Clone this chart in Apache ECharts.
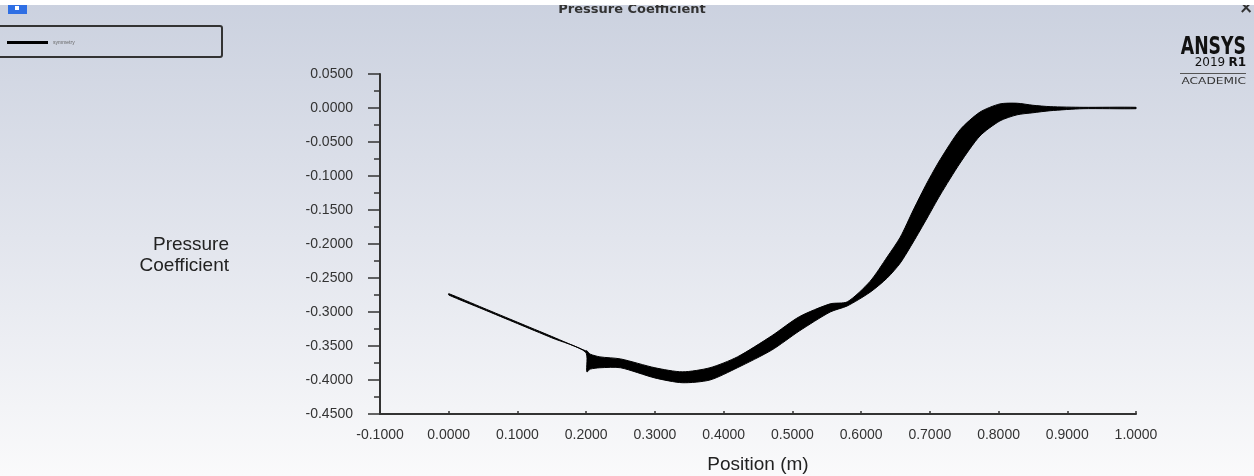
<!DOCTYPE html>
<html>
<head>
<meta charset="utf-8">
<script src="https://cdn.jsdelivr.net/npm/echarts@6/dist/echarts.min.js"></script>
<style>
  html, body { margin: 0; padding: 0; background: #eef0f4; }
  #chart { width: 1254px; height: 476px; }
</style>
</head>
<body>
<div id="chart"></div>
<script>
// Position along the surface (m)
const positions = [0.000, 0.050, 0.100, 0.150, 0.199, 0.201, 0.206, 0.220, 0.250, 0.300, 0.340, 0.380, 0.420, 0.470, 0.510, 0.555, 0.580, 0.613, 0.638, 0.657, 0.676, 0.696, 0.715, 0.744, 0.773, 0.802, 0.827, 0.850, 0.875, 0.923, 1.000];
// Upper envelope of the pressure coefficient curves
const cpUpper = [-0.273, -0.294, -0.315, -0.336, -0.357, -0.357, -0.362, -0.366, -0.369, -0.382, -0.388, -0.382, -0.366, -0.335, -0.307, -0.288, -0.285, -0.255, -0.219, -0.190, -0.150, -0.110, -0.076, -0.032, -0.006, 0.006, 0.007, 0.004, 0.002, 0.001, 0.001];
// Lower envelope of the pressure coefficient curves
const cpLower = [-0.275, -0.296, -0.317, -0.338, -0.359, -0.388, -0.384, -0.382, -0.382, -0.397, -0.404, -0.400, -0.382, -0.356, -0.328, -0.300, -0.291, -0.271, -0.250, -0.228, -0.197, -0.162, -0.128, -0.081, -0.041, -0.019, -0.010, -0.007, -0.004, -0.001, -0.001];
const seriesName = 'symmetry';
const titleText = 'Pressure Coefficient';
const xAxisTitle = 'Position (m)';
const yAxisTitle = ['Pressure', 'Coefficient'];

const bandData = positions.map((x, i) => [x, cpUpper[i], cpLower[i]]);

const chart = echarts.init(document.getElementById('chart'), null, { renderer: 'canvas' });
const tickFont = '"Liberation Sans", Arial, sans-serif';

function renderBand(params, api) {
  if (params.dataIndex !== 0) return null;
  const pts = [];
  for (let j = 0; j < positions.length; j++) pts.push(api.coord([positions[j], cpUpper[j]]));
  for (let j = positions.length - 1; j >= 0; j--) pts.push(api.coord([positions[j], cpLower[j]]));
  return {
    type: 'polygon',
    shape: { points: pts, smooth: 0.25 },
    style: { fill: '#000', stroke: '#000', lineWidth: 1 }
  };
}

chart.setOption({
  backgroundColor: {
    type: 'linear', x: 0, y: 0, x2: 0, y2: 1,
    colorStops: [
      { offset: 0, color: '#cbd1df' },
      { offset: 0.5, color: '#e2e5ed' },
      { offset: 1, color: '#fafafb' }
    ]
  },
  animation: false,
  grid: { left: 380, right: 118, top: 74, bottom: 62, containLabel: false, outerBoundsMode: 'none' },
  legend: {
    data: [{ name: seriesName, icon: 'rect' }],
    left: 7, top: 40, padding: 0,
    itemWidth: 41, itemHeight: 3, itemGap: 4,
    textStyle: { fontSize: 5, color: '#666', fontFamily: tickFont },
    selectedMode: false
  },
  xAxis: {
    type: 'value',
    min: -0.1, max: 1.0, interval: 0.1,
    name: xAxisTitle,
    nameLocation: 'middle',
    nameGap: 41,
    nameTextStyle: { fontSize: 19, color: '#222', fontFamily: tickFont },
    axisLine: { show: true, onZero: false, lineStyle: { color: '#333', width: 2 } },
    axisTick: { show: true, inside: true, length: 3, lineStyle: { color: '#333', width: 1.5 } },
    axisLabel: { margin: 14, fontSize: 14, color: '#333', fontFamily: tickFont,
      formatter: v => v.toFixed(4) },
    splitLine: { show: false }
  },
  yAxis: {
    type: 'value',
    min: -0.45, max: 0.05, interval: 0.05,
    axisLine: { show: true, onZero: false, lineStyle: { color: '#333', width: 2 } },
    axisTick: { show: true, length: 12, lineStyle: { color: '#333', width: 1.5 } },
    minorTick: { show: true, splitNumber: 2, length: 6, lineStyle: { color: '#333', width: 1.5 } },
    axisLabel: { margin: 27, fontSize: 14, color: '#333', fontFamily: tickFont,
      formatter: v => v.toFixed(4) },
    splitLine: { show: false }
  },
  series: [
    {
      name: seriesName,
      type: 'custom',
      coordinateSystem: 'cartesian2d',
      data: bandData,
      encode: { x: 0, y: [1, 2] },
      renderItem: renderBand,
      itemStyle: { color: '#000' },
      z: 3
    }
  ],
  graphic: [
    {
      type: 'text', z: 10,
      style: { text: titleText, x: 632, y: 16, textAlign: 'center', textVerticalAlign: 'bottom',
        font: 'bold 13px Tahoma, "DejaVu Sans", sans-serif', fill: '#333' }
    },
    { type: 'rect', z: 20, shape: { x: 0, y: 0, width: 1254, height: 5 }, style: { fill: '#ffffff' } },
    { type: 'rect', z: 10, shape: { x: 8, y: 5, width: 19, height: 9 }, style: { fill: '#2f6fe4' } },
    { type: 'rect', z: 11, shape: { x: 15, y: 6, width: 4, height: 4 }, style: { fill: '#ffffff' } },
    {
      type: 'text', z: 10,
      style: { text: '×', x: 1246, y: 9, textAlign: 'center', textVerticalAlign: 'middle',
        font: 'bold 17px "DejaVu Sans", sans-serif', fill: '#333' }
    },
    {
      type: 'rect', z: 10,
      shape: { x: -4, y: 26, width: 226, height: 31, r: 2 },
      style: { fill: 'transparent', stroke: '#333', lineWidth: 2 }
    },
    {
      type: 'text', z: 10,
      style: { text: yAxisTitle[0], x: 229, y: 245, textAlign: 'right', textVerticalAlign: 'middle',
        font: '19px "Liberation Sans", Arial, sans-serif', fill: '#222' }
    },
    {
      type: 'text', z: 10,
      style: { text: yAxisTitle[1], x: 229, y: 266, textAlign: 'right', textVerticalAlign: 'middle',
        font: '19px "Liberation Sans", Arial, sans-serif', fill: '#222' }
    },
    {
      type: 'text', z: 10, x: 1246, y: 47, scaleX: 0.72, scaleY: 1.05,
      style: { text: 'ANSYS', x: 0, y: 0, textAlign: 'right', textVerticalAlign: 'middle',
        font: 'bold 24px "DejaVu Sans", sans-serif', fill: '#111' }
    },
    {
      type: 'text', z: 10,
      style: { text: '2019 ', x: 1229, y: 63, textAlign: 'right', textVerticalAlign: 'middle',
        font: '12px "DejaVu Sans", sans-serif', fill: '#111' }
    },
    {
      type: 'text', z: 10,
      style: { text: 'R1', x: 1246, y: 63, textAlign: 'right', textVerticalAlign: 'middle',
        font: 'bold 12px "DejaVu Sans", sans-serif', fill: '#111' }
    },
    { type: 'rect', z: 10, shape: { x: 1180, y: 73, width: 66, height: 1 }, style: { fill: '#555' } },
    {
      type: 'text', z: 10, x: 1246, y: 82, scaleX: 1.35,
      style: { text: 'ACADEMIC', x: 0, y: 0, textAlign: 'right', textVerticalAlign: 'middle',
        font: '9px "DejaVu Sans", sans-serif', fill: '#333' }
    }
  ]
});
</script>
</body>
</html>
